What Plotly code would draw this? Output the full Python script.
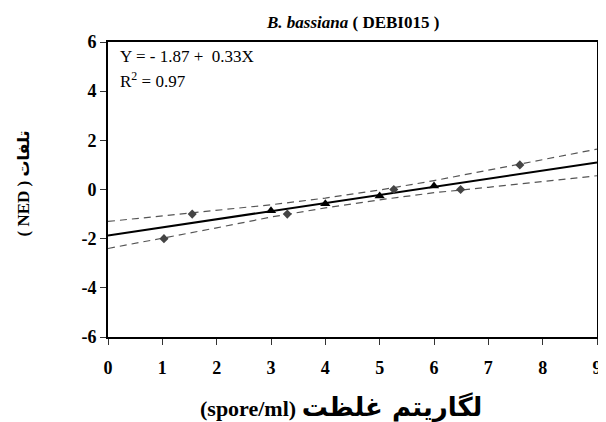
import plotly.graph_objects as go

# Observed points (diamonds)
obs_x = [1.03, 1.55, 3.30, 5.26, 6.49, 7.58]
obs_y = [-2.0, -1.0, -1.0, 0.0, 0.0, 1.0]

# Points on the fitted line (triangles)
fit_pts_x = [3.0, 4.0, 5.0, 6.0]
fit_pts_y = [-0.86, -0.58, -0.26, 0.14]

# Regression line
line_x = [0, 9]
line_y = [-1.87, 1.10]

# Confidence bands
band_x = [0, 1, 2, 3, 4, 5, 6, 7, 8, 9]
band_upper = [-1.30, -1.08, -0.86, -0.62, -0.35, -0.02, 0.36, 0.79, 1.22, 1.64]
band_lower = [-2.40, -1.99, -1.56, -1.12, -0.75, -0.42, -0.13, 0.09, 0.32, 0.56]

x_ticks = [0, 1, 2, 3, 4, 5, 6, 7, 8, 9]
y_ticks = [-6, -4, -2, 0, 2, 4, 6]

SERIF = "Liberation Serif"

title_text = "<b><i>B. bassiana</i> ( DEBI015 )</b>"
eq_text = "Y = - 1.87 +  0.33X"
r2_text = "R<sup>2</sup> = 0.97"
x_title = ("<b>(spore/ml) </b><span style='font-family:DejaVu Sans;font-size:26px'><b>لگاریتم غلظت</b></span>")
y_title = ("<b>( NED ) </b><span style='font-family:DejaVu Sans;font-size:16px'><b>تلفات</b></span>")

fig = go.Figure()
fig.add_trace(go.Scatter(x=band_x, y=band_upper, mode="lines",
                         line=dict(color="#555555", width=1.2, dash="7px,5px"),
                         hoverinfo="skip"))
fig.add_trace(go.Scatter(x=band_x, y=band_lower, mode="lines",
                         line=dict(color="#555555", width=1.2, dash="7px,5px"),
                         hoverinfo="skip"))
fig.add_trace(go.Scatter(x=line_x, y=line_y, mode="lines",
                         line=dict(color="black", width=2)))
fig.add_trace(go.Scatter(x=obs_x, y=obs_y, mode="markers",
                         marker=dict(symbol="diamond", size=7, color="#444444")))
fig.add_trace(go.Scatter(x=fit_pts_x, y=fit_pts_y, mode="markers",
                         marker=dict(symbol="triangle-up", size=9, color="black")))

fig.update_layout(
    width=606, height=422,
    margin=dict(l=100, r=12, t=34, b=93),
    paper_bgcolor="white", plot_bgcolor="white",
    showlegend=False,
    font=dict(family=SERIF, color="black"),
)
fig.update_xaxes(range=[0, 9], tickvals=x_ticks, ticktext=["<b>%d</b>" % v for v in x_ticks],
                 showgrid=False, zeroline=False,
                 showline=True, linecolor="black", linewidth=2, mirror=True,
                 ticks="outside", ticklen=6, tickcolor="#333333", tickwidth=1,
                 ticklabelstandoff=7,
                 tickfont=dict(family=SERIF, size=18, color="black"))
fig.update_yaxes(range=[-6, 6], tickvals=y_ticks, ticktext=["<b>%d</b>" % v for v in y_ticks],
                 showgrid=False, zeroline=False,
                 showline=True, linecolor="black", linewidth=2, mirror=True,
                 ticks="outside", ticklen=6, tickcolor="#333333", tickwidth=1,
                 tickfont=dict(family=SERIF, size=18, color="black"))

fig.add_annotation(text=title_text, xref="paper", yref="paper", x=0.5, y=1.0,
                   yshift=20, showarrow=False, xanchor="center", yanchor="middle",
                   font=dict(family=SERIF, size=17, color="black"))
fig.add_annotation(text=eq_text, xref="paper", yref="paper", x=0.0, y=1.0,
                   xshift=10, yshift=-14, showarrow=False, xanchor="left", yanchor="middle",
                   font=dict(family=SERIF, size=17, color="black"))
fig.add_annotation(text=r2_text, xref="paper", yref="paper", x=0.0, y=1.0,
                   xshift=10, yshift=-38, showarrow=False, xanchor="left", yanchor="middle",
                   font=dict(family=SERIF, size=17, color="black"))
fig.add_annotation(text=x_title, xref="paper", yref="paper", x=0.477, y=0.0,
                   yshift=-70, showarrow=False, xanchor="center", yanchor="middle",
                   font=dict(family=SERIF, size=22, color="black"))
fig.add_annotation(text=y_title, xref="paper", yref="paper", x=0.0, y=0.5,
                   xshift=-85, yshift=6, textangle=-90, showarrow=False,
                   xanchor="center", yanchor="middle",
                   font=dict(family=SERIF, size=17, color="black"))

fig.write_html("out.html")
